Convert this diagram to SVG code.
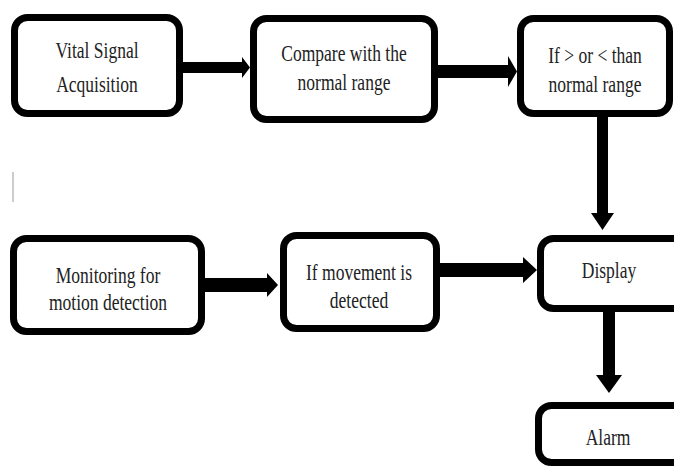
<svg xmlns="http://www.w3.org/2000/svg" width="674" height="466" viewBox="0 0 674 466">
<style>
.box{fill:#fff;stroke:#000;stroke-width:7}
.t{font-family:"Liberation Serif","Times New Roman",serif;font-size:24px;fill:#222;text-anchor:middle}
.arr{fill:#000}
</style>
<rect x="0" y="0" width="674" height="466" fill="#fff"/>
<rect x="12" y="172" width="2" height="30" fill="#ccc"/>
<g id="connectors">
<polygon class="arr" points="183,62 242,62 242,57 250,67.5 242,78 242,73 183,73"/>
<polygon class="arr" points="438,65 508,65 508,56 517,71.5 508,87 508,78 438,78"/>
<polygon class="arr" points="597,117 608,117 608,213 614,213 602.5,230 591,213 597,213"/>
<polygon class="arr" points="205,278 267,278 267,273 278,285 267,297 267,292 205,292"/>
<polygon class="arr" points="440,263 523,263 523,257 537,270 523,283 523,277 440,277"/>
<polygon class="arr" points="603,312 615,312 615,375 622,375 609,393 596,375 603,375"/>
</g>
<g id="n1">
<rect class="box" x="14.5" y="17.5" width="165" height="96" rx="13"/>
<text class="t" transform="translate(97,58) scale(0.73,1)">Vital Signal</text>
<text class="t" transform="translate(97,92) scale(0.73,1)">Acquisition</text>
</g>
<g id="n2">
<rect class="box" x="253.5" y="18.5" width="181" height="101" rx="13"/>
<text class="t" transform="translate(344,61) scale(0.73,1)">Compare with the</text>
<text class="t" transform="translate(344,90) scale(0.73,1)">normal range</text>
</g>
<g id="n3">
<rect class="box" x="520.5" y="18.5" width="149" height="95" rx="13"/>
<text class="t" transform="translate(595,63) scale(0.73,1)">If &gt; or &lt; than</text>
<text class="t" transform="translate(595,92) scale(0.73,1)">normal range</text>
</g>
<g id="n4">
<rect class="box" x="13.5" y="238.5" width="188" height="93" rx="13"/>
<text class="t" transform="translate(108,283) scale(0.73,1)">Monitoring for</text>
<text class="t" transform="translate(108,310) scale(0.73,1)">motion detection</text>
</g>
<g id="n5">
<rect class="box" x="283.5" y="235.5" width="153" height="93" rx="13"/>
<text class="t" transform="translate(359,280) scale(0.73,1)">If movement is</text>
<text class="t" transform="translate(359,308) scale(0.73,1)">detected</text>
</g>
<g id="n6">
<rect class="box" x="540.5" y="238.5" width="150" height="70" rx="13"/>
<text class="t" transform="translate(609,278) scale(0.73,1)">Display</text>
</g>
<g id="n7">
<rect class="box" x="538.5" y="405.5" width="150" height="57" rx="13"/>
<text class="t" transform="translate(608,445) scale(0.73,1)">Alarm</text>
</g>
</svg>
